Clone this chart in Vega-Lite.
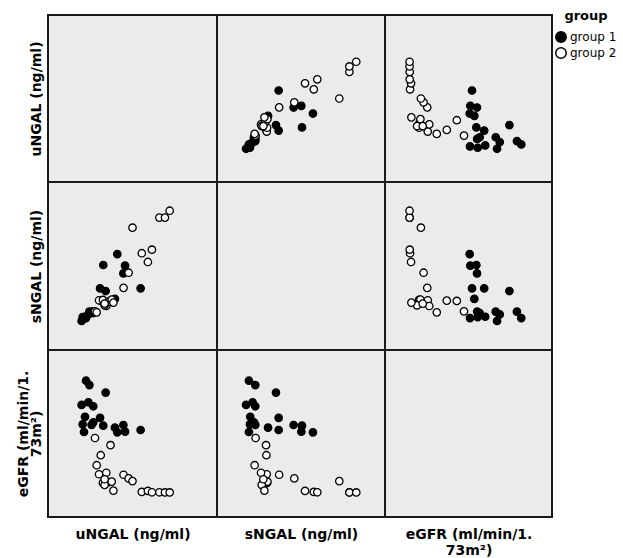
{
  "$schema": "https://vega.github.io/schema/vega-lite/v6.json",
  "background": "white",
  "padding": {"left": 15, "top": 10, "right": 0, "bottom": 0},
  "data": {"values": [
    {"group": "group 1", "uNGAL": 22.5, "sNGAL": 19.0, "eGFR": 81.6},
    {"group": "group 1", "uNGAL": 24.5, "sNGAL": 22.8, "eGFR": 79.0},
    {"group": "group 1", "uNGAL": 34.1, "sNGAL": 35.1, "eGFR": 74.5},
    {"group": "group 1", "uNGAL": 19.9, "sNGAL": 17.3, "eGFR": 67.1},
    {"group": "group 1", "uNGAL": 23.9, "sNGAL": 21.2, "eGFR": 68.7},
    {"group": "group 1", "uNGAL": 26.8, "sNGAL": 22.8, "eGFR": 66.3},
    {"group": "group 1", "uNGAL": 21.9, "sNGAL": 19.8, "eGFR": 60.0},
    {"group": "group 1", "uNGAL": 30.8, "sNGAL": 36.7, "eGFR": 59.4},
    {"group": "group 1", "uNGAL": 20.5, "sNGAL": 19.6, "eGFR": 55.5},
    {"group": "group 1", "uNGAL": 25.8, "sNGAL": 22.8, "eGFR": 55.2},
    {"group": "group 1", "uNGAL": 26.8, "sNGAL": 22.0, "eGFR": 56.7},
    {"group": "group 1", "uNGAL": 32.7, "sNGAL": 50.6, "eGFR": 54.7},
    {"group": "group 1", "uNGAL": 39.6, "sNGAL": 30.4, "eGFR": 53.5},
    {"group": "group 1", "uNGAL": 44.6, "sNGAL": 45.6, "eGFR": 55.1},
    {"group": "group 1", "uNGAL": 41.0, "sNGAL": 57.1, "eGFR": 50.7},
    {"group": "group 1", "uNGAL": 45.6, "sNGAL": 50.2, "eGFR": 51.1},
    {"group": "group 1", "uNGAL": 54.8, "sNGAL": 36.7, "eGFR": 52.1},
    {"group": "group 1", "uNGAL": 21.3, "sNGAL": 19.0, "eGFR": 50.9},
    {"group": "group 2", "uNGAL": 27.8, "sNGAL": 23.0, "eGFR": 47.3},
    {"group": "group 2", "uNGAL": 37.0, "sNGAL": 29.2, "eGFR": 43.0},
    {"group": "group 2", "uNGAL": 31.2, "sNGAL": 29.4, "eGFR": 37.0},
    {"group": "group 2", "uNGAL": 28.8, "sNGAL": 22.4, "eGFR": 31.0},
    {"group": "group 2", "uNGAL": 30.2, "sNGAL": 29.6, "eGFR": 25.6},
    {"group": "group 2", "uNGAL": 34.5, "sNGAL": 26.2, "eGFR": 26.5},
    {"group": "group 2", "uNGAL": 32.5, "sNGAL": 29.8, "eGFR": 20.4},
    {"group": "group 2", "uNGAL": 35.7, "sNGAL": 28.6, "eGFR": 20.8},
    {"group": "group 2", "uNGAL": 37.7, "sNGAL": 30.0, "eGFR": 21.2},
    {"group": "group 2", "uNGAL": 33.5, "sNGAL": 26.6, "eGFR": 19.2},
    {"group": "group 2", "uNGAL": 38.7, "sNGAL": 28.2, "eGFR": 15.8},
    {"group": "group 2", "uNGAL": 44.7, "sNGAL": 37.0, "eGFR": 25.3},
    {"group": "group 2", "uNGAL": 47.7, "sNGAL": 46.0, "eGFR": 23.1},
    {"group": "group 2", "uNGAL": 50.0, "sNGAL": 72.8, "eGFR": 21.5},
    {"group": "group 2", "uNGAL": 55.5, "sNGAL": 57.6, "eGFR": 15.0},
    {"group": "group 2", "uNGAL": 59.1, "sNGAL": 52.4, "eGFR": 15.6},
    {"group": "group 2", "uNGAL": 61.5, "sNGAL": 59.7, "eGFR": 14.8},
    {"group": "group 2", "uNGAL": 65.9, "sNGAL": 78.8, "eGFR": 14.8},
    {"group": "group 2", "uNGAL": 69.2, "sNGAL": 78.8, "eGFR": 14.7},
    {"group": "group 2", "uNGAL": 72.0, "sNGAL": 82.9, "eGFR": 14.7},
    {"group": "group 2", "uNGAL": 33.5, "sNGAL": 27.6, "eGFR": 22.6}
  ]},
  "columns": 3,
  "spacing": 0,
  "bounds": "flush",
  "concat": [
    {"width": 169, "height": 167,
     "mark": {"type": "point", "opacity": 0},
     "encoding": {
       "x": {"field": "uNGAL", "type": "quantitative", "scale": {"domain": [0, 100], "nice": false, "zero": false}, "axis": null},
       "y": {"field": "uNGAL", "type": "quantitative", "scale": {"domain": [0, 100], "nice": false, "zero": false}, "axis": {"title": "uNGAL (ng/ml)"}}
     }},
    {"width": 168, "height": 167,
     "mark": {"type": "point", "filled": true, "stroke": "black", "strokeWidth": 1.3, "size": 55, "opacity": 1},
     "encoding": {
       "x": {"field": "sNGAL", "type": "quantitative", "scale": {"domain": [0, 100], "nice": false, "zero": false}, "axis": null},
       "y": {"field": "uNGAL", "type": "quantitative", "scale": {"domain": [0, 100], "nice": false, "zero": false}, "axis": null},
       "fill": {"field": "group", "type": "nominal", "scale": {"domain": ["group 1", "group 2"], "range": ["black", "white"]}, "legend": {"title": "group"}}
     }},
    {"width": 167, "height": 167,
     "mark": {"type": "point", "filled": true, "stroke": "black", "strokeWidth": 1.3, "size": 55, "opacity": 1},
     "encoding": {
       "x": {"field": "eGFR", "type": "quantitative", "scale": {"domain": [0, 100], "nice": false, "zero": false}, "axis": null},
       "y": {"field": "uNGAL", "type": "quantitative", "scale": {"domain": [0, 100], "nice": false, "zero": false}, "axis": null},
       "fill": {"field": "group", "type": "nominal", "scale": {"domain": ["group 1", "group 2"], "range": ["black", "white"]}, "legend": {"title": "group"}}
     }},
    {"width": 169, "height": 168,
     "mark": {"type": "point", "filled": true, "stroke": "black", "strokeWidth": 1.3, "size": 55, "opacity": 1},
     "encoding": {
       "x": {"field": "uNGAL", "type": "quantitative", "scale": {"domain": [0, 100], "nice": false, "zero": false}, "axis": null},
       "y": {"field": "sNGAL", "type": "quantitative", "scale": {"domain": [0, 100], "nice": false, "zero": false}, "axis": {"title": "sNGAL (ng/ml)"}},
       "fill": {"field": "group", "type": "nominal", "scale": {"domain": ["group 1", "group 2"], "range": ["black", "white"]}, "legend": {"title": "group"}}
     }},
    {"width": 168, "height": 168,
     "mark": {"type": "point", "opacity": 0},
     "encoding": {
       "x": {"field": "sNGAL", "type": "quantitative", "scale": {"domain": [0, 100], "nice": false, "zero": false}, "axis": null},
       "y": {"field": "sNGAL", "type": "quantitative", "scale": {"domain": [0, 100], "nice": false, "zero": false}, "axis": null}
     }},
    {"width": 167, "height": 168,
     "mark": {"type": "point", "filled": true, "stroke": "black", "strokeWidth": 1.3, "size": 55, "opacity": 1},
     "encoding": {
       "x": {"field": "eGFR", "type": "quantitative", "scale": {"domain": [0, 100], "nice": false, "zero": false}, "axis": null},
       "y": {"field": "sNGAL", "type": "quantitative", "scale": {"domain": [0, 100], "nice": false, "zero": false}, "axis": null},
       "fill": {"field": "group", "type": "nominal", "scale": {"domain": ["group 1", "group 2"], "range": ["black", "white"]}, "legend": {"title": "group"}}
     }},
    {"width": 169, "height": 167,
     "mark": {"type": "point", "filled": true, "stroke": "black", "strokeWidth": 1.3, "size": 55, "opacity": 1},
     "encoding": {
       "x": {"field": "uNGAL", "type": "quantitative", "scale": {"domain": [0, 100], "nice": false, "zero": false}, "axis": {"title": "uNGAL (ng/ml)"}},
       "y": {"field": "eGFR", "type": "quantitative", "scale": {"domain": [0, 100], "nice": false, "zero": false}, "axis": {"title": ["eGFR (ml/min/1.", "73m²)"]}},
       "fill": {"field": "group", "type": "nominal", "scale": {"domain": ["group 1", "group 2"], "range": ["black", "white"]}, "legend": {"title": "group"}}
     }},
    {"width": 168, "height": 167,
     "mark": {"type": "point", "filled": true, "stroke": "black", "strokeWidth": 1.3, "size": 55, "opacity": 1},
     "encoding": {
       "x": {"field": "sNGAL", "type": "quantitative", "scale": {"domain": [0, 100], "nice": false, "zero": false}, "axis": {"title": "sNGAL (ng/ml)"}},
       "y": {"field": "eGFR", "type": "quantitative", "scale": {"domain": [0, 100], "nice": false, "zero": false}, "axis": null},
       "fill": {"field": "group", "type": "nominal", "scale": {"domain": ["group 1", "group 2"], "range": ["black", "white"]}, "legend": {"title": "group"}}
     }},
    {"width": 167, "height": 167,
     "mark": {"type": "point", "opacity": 0},
     "encoding": {
       "x": {"field": "eGFR", "type": "quantitative", "scale": {"domain": [0, 100], "nice": false, "zero": false}, "axis": {"title": ["eGFR (ml/min/1.", "73m²)"]}},
       "y": {"field": "eGFR", "type": "quantitative", "scale": {"domain": [0, 100], "nice": false, "zero": false}, "axis": null}
     }}
  ],
  "config": {
    "view": {"fill": "#ebebeb", "stroke": "#1a1a1a", "strokeWidth": 2},
    "axis": {"domain": false, "ticks": false, "labels": false, "grid": false, "titleFont": "DejaVu Sans", "titleFontSize": 14, "titleFontWeight": "bold", "titleColor": "black"},
    "axisX": {"titlePadding": 10, "titleLineHeight": 16},
    "axisY": {"titlePadding": 5, "titleLineHeight": 13},
    "legend": {
      "orient": "none", "legendX": 507, "legendY": -5,
      "titleFont": "DejaVu Sans", "titleFontSize": 13, "titleFontWeight": "bold", "titleColor": "black", "titlePadding": 8, "titleAnchor": "middle",
      "labelFont": "DejaVu Sans", "labelFontSize": 12, "labelColor": "black", "labelOffset": 3,
      "symbolType": "circle", "symbolSize": 110, "symbolStrokeColor": "black", "symbolStrokeWidth": 1.5,
      "rowPadding": -2, "padding": 0
    }
  }
}
